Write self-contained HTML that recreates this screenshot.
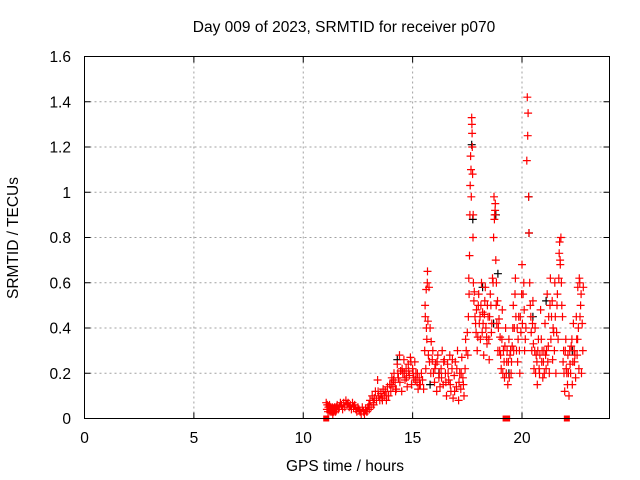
<!DOCTYPE html>
<html><head><meta charset="utf-8"><style>
body{margin:0;background:#fff}
svg{display:block;font-family:"Liberation Sans",sans-serif}
</style></head><body>
<svg id="chart" width="640" height="480" viewBox="0 0 640 480">
<rect width="640" height="480" fill="#fff"/>
<g id="grid"></g>
<g id="ticks"></g>
<g id="blk"></g>
<g id="red"></g>
<rect x="84.5" y="56.5" width="525" height="362" fill="none" stroke="#000" stroke-width="1"/>
<text x="344" y="32" font-size="15.5" text-anchor="middle">Day 009 of 2023, SRMTID for receiver p070</text>
<text x="345" y="471" font-size="15.5" text-anchor="middle">GPS time / hours</text>
<text transform="translate(18,238) rotate(-90)" font-size="15.5" text-anchor="middle">SRMTID / TECUs</text>
</svg>
<script>
const xTicks=[0,5,10,15,20];
const yTicks=[0,0.2,0.4,0.6,0.8,1,1.2,1.4,1.6];
const yTickLabels=["0","0.2","0.4","0.6","0.8","1","1.2","1.4","1.6"];
const redTimes=[
11.05,11.08,11.1,11.13,11.15,11.18,11.2,11.23,11.25,11.28,
11.3,11.33,11.35,11.38,11.4,11.43,11.45,11.48,11.5,11.53,
11.55,11.6,11.65,11.7,11.75,11.8,11.85,11.9,11.95,12.0,
12.05,12.1,12.15,12.2,12.25,12.3,12.35,12.4,12.45,12.5,
12.55,12.6,12.65,12.7,12.75,12.8,12.85,12.9,12.95,13.0,
13.05,13.1,13.15,13.2,13.25,13.3,13.35,13.4,13.45,13.5,
13.55,13.6,13.65,13.7,13.75,13.8,13.85,13.9,13.95,14.0,
14.05,14.1,14.15,14.2,14.25,14.3,14.35,14.4,14.45,14.5,
14.55,14.6,14.65,14.7,14.75,14.8,14.85,14.9,14.95,15.0,
15.05,15.1,15.15,15.2,15.25,15.3,15.35,15.4,15.45,15.5,
15.55,15.58,15.6,15.62,15.65,15.68,15.7,15.72,15.75,15.8,
15.85,15.9,15.95,16.0,16.05,16.1,16.15,16.2,16.25,16.3,
16.35,16.4,16.45,16.5,16.55,16.6,16.65,16.7,16.75,16.8,
16.85,16.9,16.95,17.0,17.05,17.1,17.15,17.2,17.25,17.3,
17.35,17.4,17.45,17.5,17.55,17.58,17.6,17.62,17.65,17.68,
17.7,17.72,17.74,17.76,17.78,17.8,17.85,17.9,17.95,18.0,
18.05,18.1,18.15,18.2,18.25,18.3,18.35,18.4,18.45,18.5,
18.55,18.6,18.65,18.7,18.72,18.75,18.78,18.8,18.82,18.85,
18.9,18.95,19.0,19.05,19.1,19.15,19.2,19.25,19.3,19.35,
19.4,19.45,19.5,19.55,19.6,19.65,19.7,19.75,19.8,19.85,
19.9,19.95,20.0,20.05,20.1,20.15,20.22,20.24,20.26,20.28,
20.3,20.32,20.35,20.4,20.45,20.5,20.55,20.6,20.65,20.7,
20.75,20.8,20.85,20.9,20.95,21.0,21.05,21.1,21.15,21.2,
21.25,21.3,21.35,21.4,21.45,21.5,21.55,21.6,21.65,21.7,
21.72,21.75,21.78,21.8,21.85,21.9,21.95,22.0,22.05,22.1,
22.15,22.2,22.25,22.3,22.35,22.4,22.45,22.5,22.55,22.6,
22.62,22.65,22.7,22.72,22.75,22.78,22.8,22.68,22.58,22.52,
15.57,15.63,15.67,15.77,15.83,15.92,16.02,16.12,16.22,16.32,
16.42,16.52,16.62,16.72,16.82,16.92,17.02,17.12,17.22,17.32,
17.42,17.52,17.57,17.63,17.67,17.71,17.73,17.77,17.82,17.88,
17.92,17.98,18.02,18.08,18.12,18.18,18.22,18.28,18.32,18.38,
18.42,18.48,18.52,18.58,18.62,18.68,18.74,18.77,18.83,18.88,
18.92,18.98,19.02,19.08,19.12,19.18,19.22,19.28,19.32,19.38,
19.42,19.48,19.52,19.58,19.62,19.68,19.72,19.78,19.82,19.88,
19.92,19.98,20.02,20.08,20.12,20.18,20.38,20.42,20.48,20.52,
20.58,20.62,20.68,20.72,20.78,20.82,20.88,20.92,20.98,21.02,
21.08,21.12,21.18,21.22,21.28,21.32,21.38,21.42,21.48,21.52,
21.58,21.62,21.68,21.74,21.82,21.88,21.92,21.98,22.02,22.08,
22.12,22.18,22.22,22.28,22.32,22.38,22.42,22.48,22.54,22.64,
14.02,14.12,14.22,14.32,14.42,14.52,14.62,14.72,14.82,14.92,
15.02,15.12,15.22,15.32,13.22,13.42,13.62,13.82,13.02,12.92];
const redValues=[
0.07,0.04,0.06,0.03,0.05,0.04,0.06,0.03,0.05,0.04,
0.03,0.05,0.02,0.04,0.03,0.05,0.04,0.03,0.05,0.04,
0.06,0.04,0.05,0.07,0.06,0.04,0.07,0.05,0.08,0.06,
0.07,0.05,0.06,0.04,0.07,0.05,0.06,0.04,0.03,0.05,
0.04,0.03,0.02,0.05,0.03,0.02,0.04,0.03,0.05,0.06,
0.08,0.05,0.1,0.07,0.09,0.12,0.08,0.17,0.1,0.08,
0.11,0.09,0.13,0.1,0.12,0.08,0.14,0.1,0.15,0.12,
0.18,0.14,0.2,0.16,0.13,0.24,0.18,0.28,0.21,0.12,
0.2,0.26,0.17,0.22,0.14,0.24,0.19,0.27,0.15,0.22,
0.18,0.25,0.2,0.16,0.13,0.18,0.15,0.2,0.17,0.13,
0.3,0.45,0.22,0.57,0.35,0.65,0.43,0.28,0.58,0.4,
0.34,0.26,0.2,0.16,0.24,0.12,0.28,0.18,0.14,0.22,
0.3,0.15,0.26,0.2,0.1,0.24,0.17,0.28,0.12,0.22,
0.09,0.19,0.25,0.14,0.3,0.08,0.2,0.13,0.27,0.18,
0.1,0.22,0.3,0.38,0.45,0.55,0.72,0.9,1.16,0.98,
1.33,1.26,1.08,0.8,0.6,0.52,0.45,0.38,0.3,0.5,
0.42,0.35,0.6,0.47,0.28,0.52,0.4,0.33,0.45,0.26,
0.55,0.38,0.62,0.8,0.98,0.9,0.95,0.7,0.5,0.42,
0.3,0.44,0.36,0.22,0.48,0.3,0.18,0.4,0.25,0.15,
0.35,0.28,0.2,0.32,0.5,0.4,0.62,0.3,0.25,0.45,
0.2,0.38,0.68,0.55,0.48,0.35,1.14,1.42,1.25,1.35,
0.98,0.82,0.6,0.45,0.3,0.52,0.22,0.4,0.28,0.15,
0.35,0.2,0.48,0.25,0.18,0.3,0.42,0.22,0.55,0.32,
0.2,0.62,0.45,0.26,0.38,0.6,0.2,0.5,0.35,0.73,
0.78,0.68,0.8,0.6,0.45,0.3,0.12,0.35,0.2,0.28,
0.1,0.24,0.32,0.15,0.42,0.25,0.18,0.35,0.58,0.22,
0.62,0.45,0.55,0.2,0.42,0.3,0.58,0.5,0.4,0.28,
0.5,0.4,0.6,0.25,0.2,0.3,0.22,0.25,0.2,0.18,
0.25,0.16,0.2,0.15,0.26,0.12,0.22,0.16,0.2,0.15,
0.35,0.28,0.62,1.03,1.1,1.3,1.2,0.9,0.56,0.42,
0.48,0.36,0.55,0.45,0.5,0.38,0.42,0.46,0.58,0.36,
0.5,0.35,0.45,0.5,0.42,0.6,0.88,0.92,0.6,0.52,
0.4,0.3,0.28,0.35,0.2,0.25,0.32,0.2,0.3,0.25,
0.18,0.3,0.25,0.4,0.3,0.55,0.45,0.4,0.35,0.3,
0.45,0.55,0.42,0.6,0.3,0.4,0.5,0.38,0.42,0.33,
0.3,0.2,0.25,0.3,0.22,0.28,0.35,0.3,0.25,0.2,
0.28,0.3,0.25,0.45,0.5,0.35,0.52,0.4,0.3,0.45,
0.38,0.55,0.62,0.7,0.5,0.25,0.2,0.3,0.22,0.15,
0.2,0.3,0.2,0.35,0.25,0.3,0.28,0.45,0.35,0.6,
0.15,0.17,0.12,0.2,0.16,0.22,0.2,0.18,0.21,0.25,
0.2,0.17,0.2,0.15,0.06,0.12,0.08,0.1,0.04,0.03];
const blackTimes=[17.7,17.75,18.8,18.9,20.3,20.32,18.2,19.4,21.1,15.8,14.3,16.2,18.7,20.5,22.3];
const blackValues=[1.21,0.88,0.9,0.64,0.98,0.82,0.58,0.2,0.52,0.15,0.26,0.2,0.42,0.45,0.3];
const markerTimes=[11.05,19.25,19.32,22.05];
const markerValues=[0,0,0,0];

const X0=84.5,X1=609.5,Y0=418.5,Y1=56.5,XMAX=24,YMAX=1.6;
const xs=t=>X0+(t/XMAX)*(X1-X0);
const ys=v=>Y0-(v/YMAX)*(Y0-Y1);
const NS="http://www.w3.org/2000/svg";
const grid=document.getElementById('grid'),ticks=document.getElementById('ticks');
function mk(tag,attrs,parent){const e=document.createElementNS(NS,tag);for(const k in attrs)e.setAttribute(k,attrs[k]);parent.appendChild(e);return e;}
xTicks.forEach(t=>{
  const x=xs(t);
  if(t>0){const g=mk('line',{x1:x,x2:x,y1:Y0,y2:Y1,stroke:'#a0a0a0','stroke-dasharray':'2,3'},grid);
  
  }
  const a=mk('path',{d:`M${x},${Y0}v-6M${x},${Y1}v6`,stroke:'#000'},ticks);
  
  
  const l=mk('text',{x:x,y:443,'font-size':15.5,'text-anchor':'middle'},ticks);l.textContent=t;
  
  
});
yTicks.forEach((v,i)=>{
  const y=ys(v);
  if(v>0&&v<YMAX){const g=mk('line',{x1:X0,x2:X1,y1:y,y2:y,stroke:'#a0a0a0','stroke-dasharray':'2,3'},grid);
  
  }
  const a=mk('path',{d:`M${X0},${y}h6M${X1},${y}h-6`,stroke:'#000'},ticks);
  
  
  const l=mk('text',{x:71,y:y+5.5,'font-size':15.5,'text-anchor':'end'},ticks);l.textContent=yTickLabels[i];
  
  
});
function plus(ts,vs,col,parent,name){
  let d='';
  ts.forEach((t,i)=>{const x=xs(t),y=ys(vs[i]);d+=`M${(x-4).toFixed(1)},${y.toFixed(1)}h8M${x.toFixed(1)},${(y-4).toFixed(1)}v8`;});
  const p=mk('path',{d:d,stroke:col,'stroke-width':1.2,fill:'none'},parent);
  
  
}
plus(blackTimes,blackValues,'#000',document.getElementById('blk'),'black-points');
plus(redTimes,redValues,'#ff0000',document.getElementById('red'),'red-points');
markerTimes.forEach((t,i)=>{
  const r=mk('rect',{x:xs(t)-3,y:ys(markerValues[i])-3,width:6,height:6,fill:'#ff0000'},document.getElementById('red'));
  
  
});
</script>
</body></html>
